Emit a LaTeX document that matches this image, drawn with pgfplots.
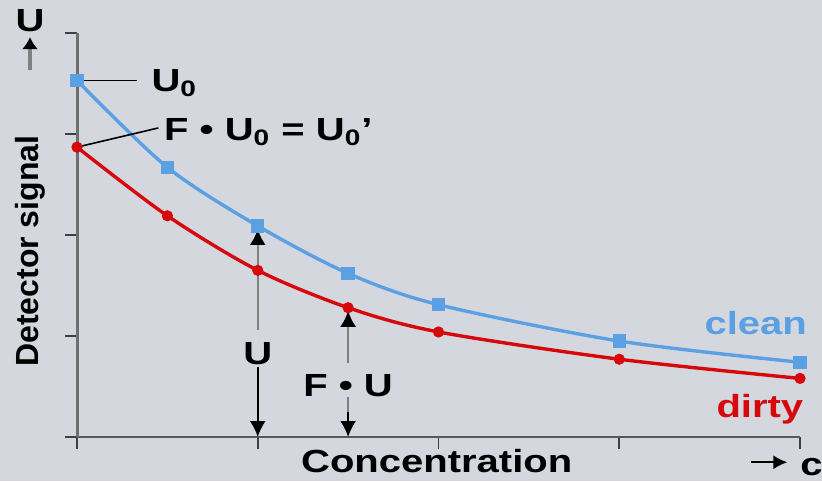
\documentclass[border=0pt]{standalone}
\usepackage{pgfplots}
\pgfplotsset{compat=1.18}
\usepackage{fontspec}
\setmainfont[FakeStretch=1.25]{Liberation Sans}
\newfontfamily\plainsans{Liberation Sans}
\usetikzlibrary{arrows.meta}
\definecolor{bg}{RGB}{212,215,222}
\definecolor{cleanblue}{RGB}{92,160,228}
\definecolor{dirtyred}{RGB}{214,8,12}
\definecolor{axgray}{RGB}{110,110,110}
\begin{document}
\begin{tikzpicture}
\fill[bg] (-38.5pt,-22pt) rectangle (372.5pt,218.5pt);
\useasboundingbox (-38.5pt,-22pt) rectangle (372.5pt,218.5pt);
\begin{axis}[
  at={(0,0)}, anchor=south west,
  scale only axis, width=361.5pt, height=202pt,
  xmin=0, xmax=4, ymin=0, ymax=4,
  axis x line=bottom, axis y line=left,
  x axis line style={-, line width=1pt, draw=axgray!80!black},
  y axis line style={-, line width=1.5pt, draw=axgray},
  xtick={0,1,2,3,4}, ytick={0,1,2,3,4},
  xticklabels={}, yticklabels={},
  tick align=outside, major tick length=6pt,
  tick style={line width=0.8pt, draw=black!75},
  clip=false,
  font=\fontsize{16}{19}\selectfont\bfseries,
]
% clean
\addplot[cleanblue, line width=1.7pt, smooth, mark=square*, mark size=2.5pt,
  mark options={solid}] coordinates {
(0,3.53) (0.5,2.67) (1,2.09) (1.5,1.62) (2,1.31) (3,0.95) (4,0.74)
};
% dirty
\addplot[dirtyred, line width=1.7pt, smooth, mark=*, mark size=1.9pt,
  mark options={solid}] coordinates {
(0,2.87) (0.5,2.19) (1,1.65) (1.5,1.28) (2,1.04) (3,0.77) (4,0.58)
};
% U0 labels
\draw[black, line width=0.8pt] (axis cs:0,3.53) -- (axis cs:0.33,3.53);
\node[anchor=west, inner sep=0pt] at (axis cs:0.41,3.50) {U\textsubscript{0}};
\draw[black, line width=0.8pt] (axis cs:0,2.87) -- (axis cs:0.45,3.06);
\node[anchor=west, inner sep=0pt] at (axis cs:0.48,3.02) {F • U\textsubscript{0} = U\textsubscript{0}’};
% U arrow
\draw[gray, line width=1.2pt, -{Latex[black,length=8pt,width=8pt]}] (axis cs:1,1.06) -- (axis cs:1,2.06);
\draw[black, line width=1pt, -{Latex[length=8pt,width=8pt]}] (axis cs:1,0.69) -- (axis cs:1,0.0);
\node[anchor=base, inner sep=0pt] at (axis cs:1,0.72) {U};
% F.U arrow
\draw[gray, line width=1.2pt, -{Latex[black,length=8pt,width=8pt]}] (axis cs:1.5,0.73) -- (axis cs:1.5,1.25);
\draw[gray, line width=1.2pt] (axis cs:1.5,0.40) -- (axis cs:1.5,0.25);
\draw[black, line width=1pt, -{Latex[length=8pt,width=8pt]}] (axis cs:1.5,0.25) -- (axis cs:1.5,0.0);
\node[anchor=base, inner sep=0pt] at (axis cs:1.5,0.40) {F • U};
% series names
\node[anchor=base east, inner sep=0pt, text=cleanblue] at (axis cs:4.04,1.01) {clean};
\node[anchor=base east, inner sep=0pt, text=dirtyred] at (axis cs:4.02,0.19) {dirty};
% axis names
\node[anchor=base, inner sep=0pt] at (axis cs:1.99,-0.356) {Concentration};
\draw[black, line width=1pt, -{Latex[length=7pt,width=7pt]}] (axis cs:3.73,-0.25) -- (axis cs:3.93,-0.25);
\node[anchor=base west, inner sep=0pt] at (axis cs:4.0,-0.386) {c};
\node[rotate=90, inner sep=0pt, font=\plainsans\fontsize{16}{19}\selectfont\bfseries] at (axis cs:-0.26,1.84) {Detector signal};
\node[inner sep=0pt] at (axis cs:-0.26,4.12) {U};
\draw[gray, line width=2pt, -{Latex[black,length=6pt,width=8pt]}] (axis cs:-0.26,3.63) -- (axis cs:-0.26,3.96);
\end{axis}
\end{tikzpicture}
\end{document}
